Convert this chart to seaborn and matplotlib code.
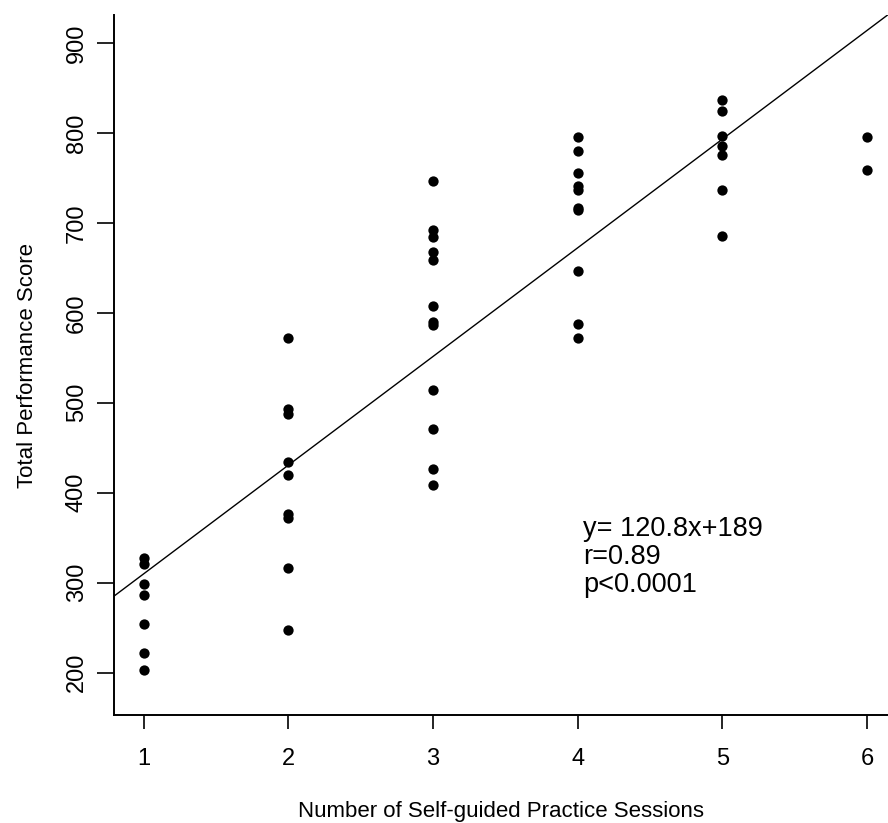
import numpy as np
import pandas as pd
import matplotlib
matplotlib.use("Agg")
import matplotlib.pyplot as plt
import seaborn as sns

# values, one list per session count
s1 = [328, 321, 299, 286, 254, 222, 203]
s2 = [572, 493, 488, 434, 420, 376, 372, 316, 247]
s3 = [746, 692, 684, 668, 659, 608, 590, 586, 514, 471, 426, 409]
s4 = [795, 780, 755, 741, 737, 717, 714, 646, 588, 572]
s5 = [837, 824, 796, 785, 775, 736, 685]
s6 = [795, 759]

slope = 120.8
intercept = 189
stats_txt = "y= 120.8x+189\nr=0.89\np<0.0001"

x_ticks = [1, 2, 3, 4, 5, 6]
y_ticks = [200, 300, 400, 500, 600, 700, 800, 900]

groups = [s1, s2, s3, s4, s5, s6]
df = pd.DataFrame({
    "sessions": np.concatenate([[i + 1] * len(g) for i, g in enumerate(groups)]),
    "score": np.concatenate(groups),
})

sns.set_style("ticks")
plt.rcParams["font.family"] = ["Liberation Sans", "DejaVu Sans"]
for k in ["text.color", "axes.labelcolor", "xtick.color", "ytick.color", "axes.edgecolor"]:
    plt.rcParams[k] = "black"

fig = plt.figure(figsize=(8.88, 8.23), dpi=100)
ax = fig.add_axes([0.1284, 0.1312, 0.8716, 0.8506])

sns.scatterplot(data=df, x="sessions", y="score", color="black", s=55,
                linewidth=0, ax=ax, zorder=3)
ax.axline((0, intercept), slope=slope, color="black", lw=1)

ax.set_xlim(0.796, 6.145)
ax.set_ylim(153, 931)
ax.set_xticks(x_ticks)
ax.set_yticks(y_ticks)
ax.set_yticklabels([str(v) for v in y_ticks], rotation=90, va="center")
ax.tick_params(axis="x", length=10, width=1.2, pad=14, labelsize=17)
ax.tick_params(axis="y", length=12, width=1.2, pad=7, labelsize=17)
for sp in ["left", "bottom"]:
    ax.spines[sp].set_linewidth(1.4)
sns.despine(ax=ax)

ax.set_xlabel("Number of Self-guided Practice Sessions", fontsize=16, labelpad=22)
ax.set_ylabel("Total Performance Score", fontsize=16, labelpad=20)

ax.text(4.04, 374, stats_txt, va="top", ha="left", fontsize=19.5,
        linespacing=1.1)

fig.savefig("out.png", dpi=100, facecolor="white")
